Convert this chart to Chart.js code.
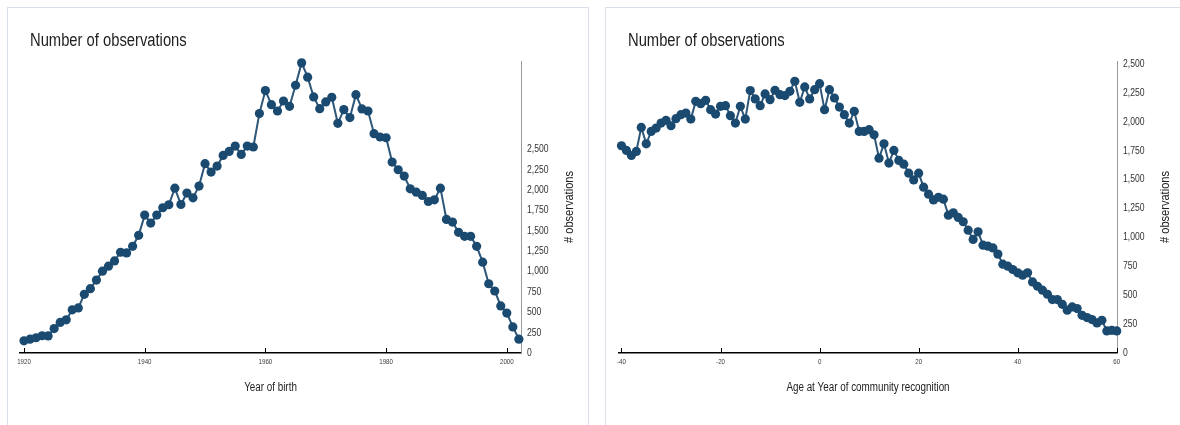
<!DOCTYPE html>
<html>
<head>
<meta charset="utf-8">
<script src="https://cdn.jsdelivr.net/npm/chart.js@4.4.1/dist/chart.umd.min.js"></script>
<style>
  html, body { margin: 0; padding: 0; background: #ffffff; width: 1180px; height: 425px; overflow: hidden; }
  .panel { position: absolute; top: 7px; height: 440px; border: 1px solid #d9dfe8; background: #ffffff; }
  #panelBirth { left: 7px; width: 580px; }
  #panelAge { left: 605px; width: 620px; }
  canvas { position: absolute; display: block; }
  #birthChart { left: 9px; top: 8px; }
  #ageChart { left: 607px; top: 8px; }
</style>
</head>
<body>
<div class="panel" id="panelBirth"></div>
<div class="panel" id="panelAge"></div>
<canvas id="birthChart" width="579" height="417"></canvas>
<canvas id="ageChart" width="573" height="417"></canvas>
<script>
// Observations per year of birth
const birthYears = [
  1920, 1921, 1922, 1923, 1924, 1925, 1926, 1927, 1928, 1929,
  1930, 1931, 1932, 1933, 1934, 1935, 1936, 1937, 1938, 1939,
  1940, 1941, 1942, 1943, 1944, 1945, 1946, 1947, 1948, 1949,
  1950, 1951, 1952, 1953, 1954, 1955, 1956, 1957, 1958, 1959,
  1960, 1961, 1962, 1963, 1964, 1965, 1966, 1967, 1968, 1969,
  1970, 1971, 1972, 1973, 1974, 1975, 1976, 1977, 1978, 1979,
  1980, 1981, 1982, 1983, 1984, 1985, 1986, 1987, 1988, 1989,
  1990, 1991, 1992, 1993, 1994, 1995, 1996, 1997, 1998, 1999,
  2000, 2001, 2002
];
const birthCounts = [
  150, 170, 187, 212, 210, 300, 375, 407, 530, 553,
  720, 790, 895, 1005, 1066, 1131, 1237, 1229, 1310, 1445,
  1693, 1595, 1693, 1783, 1820, 2024, 1823, 1963, 1905, 2049,
  2324, 2221, 2295, 2426, 2475, 2541, 2438, 2541, 2529, 2939,
  3222, 3049, 2971, 3094, 3029, 3287, 3562, 3386, 3144, 3000,
  3082, 3140, 2820, 2988, 2890, 3172, 2996, 2971, 2693, 2652,
  2643, 2344, 2250, 2172, 2016, 1975, 1934, 1860, 1881, 2024,
  1640, 1608, 1481, 1433, 1433, 1310, 1115, 850, 761, 578,
  490, 320, 170
];

// Observations per age at the year of community recognition
const recognitionAges = [
  -40, -39, -38, -37, -36, -35, -34, -33, -32, -31,
  -30, -29, -28, -27, -26, -25, -24, -23, -22, -21,
  -20, -19, -18, -17, -16, -15, -14, -13, -12, -11,
  -10, -9, -8, -7, -6, -5, -4, -3, -2, -1,
  0, 1, 2, 3, 4, 5, 6, 7, 8, 9,
  10, 11, 12, 13, 14, 15, 16, 17, 18, 19,
  20, 21, 22, 23, 24, 25, 26, 27, 28, 29,
  30, 31, 32, 33, 34, 35, 36, 37, 38, 39,
  40, 41, 42, 43, 44, 45, 46, 47, 48, 49,
  50, 51, 52, 53, 54, 55, 56, 57, 58, 59,
  60
];
const ageCounts = [
  1792, 1752, 1708, 1743, 1951, 1809, 1916, 1945, 1988, 2012,
  1965, 2026, 2061, 2075, 2023, 2176, 2156, 2185, 2104, 2066,
  2133, 2139, 2052, 1988, 2133, 2023, 2269, 2197, 2139, 2240,
  2191, 2272, 2234, 2226, 2263, 2350, 2168, 2301, 2197, 2277,
  2329, 2104, 2277, 2205, 2127, 2061, 1988, 2090, 1916, 1916,
  1931, 1887, 1685, 1809, 1642, 1752, 1665, 1633, 1555, 1497,
  1555, 1434, 1373, 1324, 1347, 1330, 1192, 1212, 1172, 1135,
  1062, 982, 1048, 932, 924, 909, 855, 768, 751, 722,
  693, 673, 693, 615, 577, 543, 508, 462, 462, 421,
  370, 398, 384, 326, 306, 289, 260, 283, 191, 196,
  191
];

// Axis tick values
const birthYearTicks = [1920, 1940, 1960, 1980, 2000];
const ageTicks = [-40, -20, 0, 20, 40, 60];
const countTicks = [0, 250, 500, 750, 1000, 1250, 1500, 1750, 2000, 2250, 2500];

const chartTitle = 'Number of observations';
const countAxisTitle = '# observations';
const birthAxisTitle = 'Year of birth';
const ageAxisTitle = 'Age at Year of community recognition';

const SANS = '"Liberation Sans", Arial, sans-serif';
const NARROW_SCALE = 0.82;   // horizontal squeeze giving a narrow sans face
const POINT_COLOR = '#1b4a70';
const LINE_COLOR = '#2d5678';

// Draws a string in a condensed style: the regular face squeezed horizontally.
function narrowText(ctx, text, x, y, size, color, align, rotation) {
  ctx.save();
  ctx.translate(x, y);
  if (rotation) ctx.rotate(rotation);
  ctx.scale(NARROW_SCALE, 1);
  ctx.font = size + 'px ' + SANS;
  ctx.fillStyle = color;
  ctx.textAlign = align;
  ctx.textBaseline = 'middle';
  ctx.fillText(text, 0, 0);
  ctx.restore();
}

// Panel heading, axis titles, tick labels and inward x tick marks
const panelText = {
  id: 'panelText',
  afterDraw(chart, args, opts) {
    const { ctx, chartArea } = chart;
    const xs = chart.scales.x;
    const ys = chart.scales.y;

    narrowText(ctx, opts.title, 21, 33, 18, '#1e1e1e', 'left');

    // x ticks: short marks pointing up from the axis, labels below
    ctx.save();
    ctx.strokeStyle = '#000';
    ctx.lineWidth = 1;
    xs.ticks.forEach(t => {
      const px = Math.round(xs.getPixelForValue(t.value)) + 0.5;
      ctx.beginPath();
      ctx.moveTo(px, chartArea.bottom - 5);
      ctx.lineTo(px, chartArea.bottom);
      ctx.stroke();
    });
    ctx.restore();
    xs.ticks.forEach(t => {
      narrowText(ctx, String(t.value), xs.getPixelForValue(t.value), chartArea.bottom + 9, 7.5, '#3a3a3a', 'center');
    });
    narrowText(ctx, opts.xTitle, (chartArea.left + chartArea.right) / 2, chartArea.bottom + 35, 12, '#222', 'center');

    // count axis on the right
    ys.ticks.forEach(t => {
      narrowText(ctx, t.value.toLocaleString('en-US'), chartArea.right + 6, ys.getPixelForValue(t.value), 10.5, '#333', 'left');
    });
    narrowText(ctx, opts.yTitle, chartArea.right + 48, (chartArea.top + chartArea.bottom) / 2, 13.5, '#222', 'center', -Math.PI / 2);
  }
};

function makeChart(canvasId, xs, ys, xTicks, xMin, xMax, yMax, xTitle, padLeft, padRight) {
  return new Chart(document.getElementById(canvasId), {
    type: 'line',
    data: {
      datasets: [{
        data: xs.map((x, i) => ({ x: x, y: ys[i] })),
        borderColor: LINE_COLOR,
        borderWidth: 2,
        backgroundColor: POINT_COLOR,
        pointBackgroundColor: POINT_COLOR,
        pointBorderWidth: 0,
        pointRadius: 4.6,
        tension: 0,
        clip: false
      }]
    },
    options: {
      responsive: false,
      animation: false,
      devicePixelRatio: 1,
      layout: { padding: { left: padLeft, right: padRight, top: 53, bottom: 26 } },
      plugins: {
        legend: { display: false },
        tooltip: { enabled: false },
        title: { display: false },
        panelText: { title: chartTitle, yTitle: countAxisTitle, xTitle: xTitle }
      },
      scales: {
        x: {
          type: 'linear',
          position: 'bottom',
          min: xMin,
          max: xMax,
          afterBuildTicks: s => { s.ticks = xTicks.map(v => ({ value: v })); },
          afterFit: s => { s.height = 46; },
          ticks: { display: false },
          grid: { display: true, drawOnChartArea: false, drawTicks: false },
          border: { display: true, color: '#000', width: 1.5 },
          title: { display: false }
        },
        y: {
          type: 'linear',
          position: 'right',
          min: 0,
          max: yMax,
          afterBuildTicks: s => { s.ticks = countTicks.map(v => ({ value: v })); },
          afterFit: s => { s.width = 58; },
          ticks: { display: false },
          grid: { display: true, drawOnChartArea: false, drawTicks: false },
          border: { display: true, color: '#9a9a9a', width: 1 },
          title: { display: false }
        }
      }
    },
    plugins: [panelText]
  });
}

makeChart('birthChart', birthYears, birthCounts, birthYearTicks, 1919.34, 2002.35, 3585, birthAxisTitle, 11, 9);
makeChart('ageChart', recognitionAges, ageCounts, ageTicks, -40.5, 60.05, 2525, ageAxisTitle, 12, 5);
</script>
</body>
</html>
